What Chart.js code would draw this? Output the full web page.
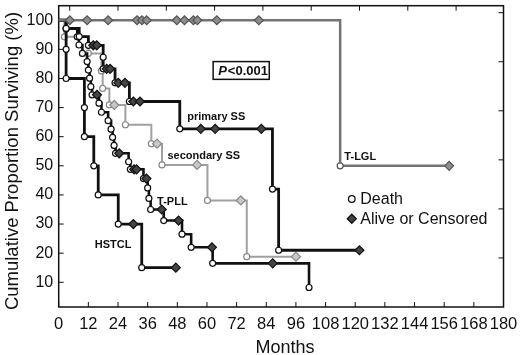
<!DOCTYPE html>
<html>
<head>
<meta charset="utf-8">
<script src="https://cdn.jsdelivr.net/npm/chart.js@4.4.1/dist/chart.umd.min.js"></script>
<style>
  html, body { margin: 0; padding: 0; background: #fff; }
  #wrap { width: 520px; height: 355px; }
</style>
</head>
<body>
<div id="wrap"><canvas id="km" width="520" height="355"></canvas></div>
<script>
// tick labels
const xTicks = [0, 12, 24, 36, 48, 60, 72, 84, 96, 108, 120, 132, 144, 156, 168, 180];
const yTicks = [10, 20, 30, 40, 50, 60, 70, 80, 90, 100];

// event codes: s = start, d = death (circle), c = alive or censored (diamond)
const tlglMonths = [0, 4.5, 11.5, 20, 31.7, 33.7, 35.6, 47.8, 50.9, 54.5, 56.1, 64, 81, 113.9, 158];
const tlglSurv   = [100, 100, 100, 100, 100, 100, 100, 100, 100, 100, 100, 100, 100, 50, 50];
const tlglEvent  = ['s', 'c', 'c', 'c', 'c', 'c', 'c', 'c', 'c', 'c', 'c', 'c', 'c', 'd', 'c'];

const primMonths = [0, 3, 8.3, 12, 14, 15.4, 18, 18, 19.4, 20.8, 22.8, 24.1, 26.8, 28.6, 30.2, 32.9, 49, 57.5, 63.3, 82, 86.5, 89, 121.7];
const primSurv   = [100, 97.2, 94.4, 91.4, 91.4, 91.4, 87.3, 83.3, 83.3, 83.3, 78.5, 78.5, 78.5, 72.1, 72.1, 72.1, 62.7, 62.7, 62.7, 62.7, 42, 21, 21];
const primEvent  = ['s', 'd', 'd', 'd', 'c', 'c', 'd', 'd', 'c', 'c', 'd', 'c', 'c', 'd', 'c', 'c', 'd', 'c', 'c', 'c', 'd', 'd', 'c'];

const secMonths = [0, 2.3, 12, 17.3, 17.8, 20.5, 22.5, 27, 37.5, 39.8, 41.8, 56, 60.2, 73.7, 76.1, 96];
const secSurv   = [100, 94.3, 88.6, 82.6, 76.6, 70.9, 70.9, 64.1, 57.6, 57.6, 50.3, 50.3, 38.1, 38.1, 18.8, 18.8];
const secEvent  = ['s', 'd', 'd', 'd', 'd', 'd', 'c', 'd', 'd', 'c', 'd', 'c', 'd', 'c', 'd', 'c'];

const tpllMonths = [0, 3, 7.5, 8.2, 9.6, 11.5, 12, 12.5, 13, 13.5, 15.5, 16.3, 17.3, 20, 21.2, 21.8, 22.4, 23,
                    24.5, 28.3, 29, 30.5, 31.5, 34.3, 35.5, 36, 36.5, 37.2, 41.7, 42.5, 48.5, 49.9, 53.6, 62, 62.3, 86.6, 101.3];
const tpllSurv   = [100, 97.1, 94.3, 91.5, 88.6, 85.8, 82.9, 80.1, 77.2, 74.4, 74.4, 71.5, 68.4, 65.5, 62.6, 59.8, 57, 54.3,
                    54.3, 51.4, 48.8, 48.8, 48.8, 45.6, 45.6, 42.4, 38.8, 35, 35, 31.2, 31.2, 26.5, 22, 22, 16.5, 16.5, 8.2];
const tpllEvent  = ['s', 'd', 'd', 'd', 'd', 'd', 'd', 'd', 'd', 'd', 'c', 'd', 'd', 'd', 'd', 'd', 'd', 'd',
                    'c', 'd', 'd', 'c', 'c', 'd', 'c', 'd', 'd', 'd', 'c', 'd', 'c', 'd', 'd', 'c', 'd', 'c', 'd'];

const hstclMonths = [0, 3, 3, 10.4, 10.4, 14.2, 16, 24.1, 30.2, 33.6, 47.4];
const hstclSurv   = [100, 90, 80, 70, 60, 50, 40, 30, 30, 15, 15];
const hstclEvent  = ['s', 'd', 'd', 'd', 'd', 'd', 'd', 'd', 'c', 'd', 'c'];

// curve labels: [text, month, surv]
const curveLabels = [
  ['primary SS', 52, 66.8],
  ['secondary SS', 44, 53.4],
  ['T-PLL', 39.8, 37.6],
  ['HSTCL', 14.6, 22.9],
  ['T-LGL', 115.6, 53.2]
];

const FONT = '"Liberation Sans", Arial, sans-serif';

function kmDataset(label, months, surv, events, style) {
  return {
    label,
    data: months.map((m, i) => ({ x: m, y: surv[i] })),
    stepped: 'before',
    borderColor: style.line,
    borderWidth: style.width,
    pointStyle: c => events[c.dataIndex] === 'c' ? 'rectRot' : 'circle',
    pointRadius: c => events[c.dataIndex] === 's' ? 0 : (events[c.dataIndex] === 'c' ? 4.5 : 3),
    pointBackgroundColor: c => events[c.dataIndex] === 'c' ? style.diamond : '#fff',
    pointBorderColor: style.mark,
    pointBorderWidth: 1.2,
    fill: false,
    clip: false
  };
}

// box, inward tick marks, axis titles, curve labels, P value and legend
const decor = {
  id: 'decor',
  beforeDatasetsDraw(chart) {
    const { ctx, chartArea: a, scales: { x, y } } = chart;
    ctx.save();
    ctx.strokeStyle = '#111';
    ctx.lineWidth = 1.5;
    ctx.strokeRect(a.left, a.top, a.right - a.left, a.bottom - a.top);
    ctx.lineWidth = 1;
    ctx.beginPath();
    xTicks.forEach(v => {
      const px = x.getPixelForValue(v);
      ctx.moveTo(px, a.bottom); ctx.lineTo(px, a.bottom - 5);
    });
    yTicks.forEach(v => {
      const py = y.getPixelForValue(v);
      ctx.moveTo(a.left, py); ctx.lineTo(a.left + 5, py);
    });
    for (let i = 1; i <= 6; i++) {
      const py = a.bottom - i * (a.bottom - a.top - 7) / 6;
      ctx.moveTo(a.right, py); ctx.lineTo(a.right - 5, py);
    }
    for (let i = 0; i < 9; i++) {
      const px = a.left + 11 + i * 48.3;
      ctx.moveTo(px, a.top); ctx.lineTo(px, a.top + 5);
    }
    ctx.stroke();

    ctx.fillStyle = '#111';
    ctx.textAlign = 'center';
    ctx.font = '18px ' + FONT;
    ctx.textBaseline = 'alphabetic';
    ctx.fillText('Months', 285, 353);

    ctx.translate(13, 161);
    ctx.rotate(-Math.PI / 2);
    ctx.font = '18.5px ' + FONT;
    ctx.textBaseline = 'middle';
    ctx.fillText('Cumulative Proportion Surviving (%)', 0, 0);
    ctx.restore();
  },
  afterDatasetsDraw(chart) {
    const { ctx, scales: { x, y } } = chart;
    ctx.save();
    ctx.fillStyle = '#111';
    ctx.textBaseline = 'middle';
    ctx.font = 'bold 11px ' + FONT;
    curveLabels.forEach(([t, m, s]) => ctx.fillText(t, x.getPixelForValue(m), y.getPixelForValue(s)));

    // P value box
    const bx = x.getPixelForValue(62.5), by = y.getPixelForValue(85.8);
    const bw = x.getPixelForValue(85.2) - bx, bh = y.getPixelForValue(79.7) - by;
    ctx.fillStyle = '#fff';
    ctx.fillRect(bx, by, bw, bh);
    ctx.strokeStyle = '#111';
    ctx.lineWidth = 1.5;
    ctx.strokeRect(bx, by, bw, bh);
    ctx.fillStyle = '#111';
    ctx.font = 'italic bold 13px ' + FONT;
    ctx.fillText('P', bx + 5, by + bh / 2 + 0.5);
    const pw = ctx.measureText('P').width;
    ctx.font = 'bold 13px ' + FONT;
    ctx.fillText('<0.001', bx + 6 + pw, by + bh / 2 + 0.5);

    // legend
    const lx = x.getPixelForValue(118.6);
    const ly1 = y.getPixelForValue(38.6), ly2 = y.getPixelForValue(31.8);
    ctx.lineWidth = 1.3;
    ctx.beginPath();
    ctx.arc(lx, ly1, 3.3, 0, Math.PI * 2);
    ctx.fillStyle = '#fff'; ctx.fill(); ctx.stroke();
    ctx.beginPath();
    ctx.moveTo(lx, ly2 - 4.5); ctx.lineTo(lx + 4.5, ly2); ctx.lineTo(lx, ly2 + 4.5); ctx.lineTo(lx - 4.5, ly2); ctx.closePath();
    ctx.fillStyle = '#444'; ctx.fill(); ctx.stroke();
    ctx.fillStyle = '#111';
    ctx.font = '16px ' + FONT;
    ctx.fillText('Death', lx + 8.5, ly1 + 1);
    ctx.fillText('Alive or Censored', lx + 8.5, ly2 + 1);
    ctx.restore();
  }
};

new Chart(document.getElementById('km'), {
  type: 'line',
  data: {
    datasets: [
      kmDataset('T-LGL', tlglMonths, tlglSurv, tlglEvent, { line: '#737373', width: 2.5, mark: '#555', diamond: '#8c8c8c' }),
      kmDataset('primary SS', primMonths, primSurv, primEvent, { line: '#111', width: 2.8, mark: '#111', diamond: '#444' }),
      kmDataset('T-PLL', tpllMonths, tpllSurv, tpllEvent, { line: '#111', width: 2.6, mark: '#111', diamond: '#444' }),
      kmDataset('HSTCL', hstclMonths, hstclSurv, hstclEvent, { line: '#111', width: 2.8, mark: '#111', diamond: '#444' }),
      kmDataset('secondary SS', secMonths, secSurv, secEvent, { line: '#a0a0a0', width: 2, mark: '#888', diamond: '#c8c8c8' })
    ]
  },
  options: {
    responsive: false,
    animation: false,
    layout: { padding: { top: 2, right: 16.5, left: 0, bottom: 0 } },
    plugins: { legend: { display: false }, tooltip: { enabled: false } },
    scales: {
      x: {
        type: 'linear',
        min: 0,
        max: 180,
        afterBuildTicks: s => { s.ticks = xTicks.map(v => ({ value: v })); },
        afterFit: s => { s.height = 48; s.paddingLeft = 0; s.paddingRight = 0; },
        grid: { display: false, drawTicks: false },
        border: { display: false },
        ticks: { color: '#111', padding: 8, maxRotation: 0, autoSkip: false, font: { family: FONT, size: 16.5 } }
      },
      y: {
        min: 1.5,
        max: 105,
        afterBuildTicks: s => { s.ticks = yTicks.map(v => ({ value: v })); },
        afterFit: s => { s.width = 58.7; s.paddingTop = 0; s.paddingBottom = 0; },
        grid: { display: false, drawTicks: false },
        border: { display: false },
        ticks: { color: '#111', padding: 5.5, font: { family: FONT, size: 16 } }
      }
    }
  },
  plugins: [decor]
});
</script>
</body>
</html>
